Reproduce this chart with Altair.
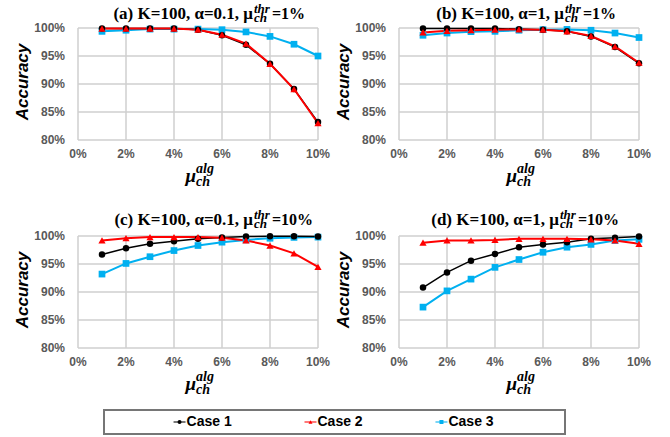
import altair as alt
import pandas as pd

# Channel load on the algorithm side (x axis)
mu_alg = [0.01, 0.02, 0.03, 0.04, 0.05, 0.06, 0.07, 0.08, 0.09, 0.10]

# Tick positions, used for the gridlines and the tick labels
x_ticks = [0, 0.02, 0.04, 0.06, 0.08, 0.10]
y_ticks = [0.80, 0.85, 0.90, 0.95, 1.00]

cases = ["Case 1", "Case 2", "Case 3"]
case_colors = {"Case 1": "#000000", "Case 2": "#FF0000", "Case 3": "#00B0F0"}
case_shapes = {"Case 1": "circle", "Case 2": "triangle-up", "Case 3": "square"}
case_sizes = {"Case 1": 42, "Case 2": 52, "Case 3": 45}
case_widths = {"Case 1": 1.5, "Case 2": 2, "Case 3": 2}
draw_order = ["Case 3", "Case 1", "Case 2"]

# Accuracy (%) per panel and case
acc_a_case1 = [99.9, 99.9, 99.9, 99.9, 99.7, 98.7, 97.0, 93.6, 89.1, 83.2]
acc_a_case2 = [99.9, 99.9, 99.9, 99.9, 99.7, 98.8, 97.2, 93.6, 89.1, 83.0]
acc_a_case3 = [99.4, 99.6, 99.8, 99.8, 99.8, 99.7, 99.3, 98.5, 97.1, 95.0]

acc_b_case1 = [99.9, 99.9, 99.9, 99.9, 99.8, 99.7, 99.4, 98.5, 96.6, 93.7]
acc_b_case2 = [99.2, 99.5, 99.6, 99.7, 99.75, 99.7, 99.4, 98.6, 96.7, 93.8]
acc_b_case3 = [98.7, 99.1, 99.35, 99.4, 99.6, 99.7, 99.75, 99.6, 99.1, 98.3]

acc_c_case1 = [96.7, 97.8, 98.6, 99.05, 99.5, 99.75, 99.9, 99.95, 99.95, 99.9]
acc_c_case2 = [99.2, 99.6, 99.8, 99.8, 99.8, 99.7, 99.2, 98.3, 96.9, 94.5]
acc_c_case3 = [93.2, 95.1, 96.3, 97.4, 98.3, 98.9, 99.3, 99.6, 99.75, 99.8]

acc_d_case1 = [90.8, 93.5, 95.6, 96.8, 98.0, 98.5, 98.9, 99.5, 99.7, 99.9]
acc_d_case2 = [98.8, 99.2, 99.2, 99.3, 99.5, 99.5, 99.5, 99.4, 99.2, 98.6]
acc_d_case3 = [87.3, 90.2, 92.3, 94.4, 95.8, 97.1, 98.0, 98.5, 99.2, 99.4]

series = {
    "a": [acc_a_case1, acc_a_case2, acc_a_case3],
    "b": [acc_b_case1, acc_b_case2, acc_b_case3],
    "c": [acc_c_case1, acc_c_case2, acc_c_case3],
    "d": [acc_d_case1, acc_d_case2, acc_d_case3],
}

rows = []
for key, vals in series.items():
    for case, accs in zip(cases, vals):
        for m, a in zip(mu_alg, accs):
            rows.append({"panel": key, "case": case, "mu": m, "acc": a / 100})
df = pd.DataFrame(rows)

x_grid_df = pd.DataFrame({"mu": x_ticks})
y_grid_df = pd.DataFrame({"acc": y_ticks})

# Panel headings: text before the mu symbol, and the value after it
titles = {
    "a": ("(a) K=100, α=0.1, μ", "=1%"),
    "b": ("(b) K=100, α=1, μ", "=1%"),
    "c": ("(c) K=100, α=0.1, μ", "=10%"),
    "d": ("(d) K=100, α=1, μ", "=10%"),
}

W, H = 240, 112
SERIF = "Liberation Serif"
SANS = "Liberation Sans"
GRID = "#cfcfcf"
LABEL = "#595959"
one_row = alt.Data(values=[{}])

x_scale = alt.Scale(domain=[0, 0.1], nice=False)
y_scale = alt.Scale(domain=[0.8, 1.0], nice=False)
x_enc = alt.X("mu:Q", scale=x_scale, axis=None)
y_enc = alt.Y("acc:Q", scale=y_scale, axis=None)


def text_piece(txt, x, y, size, align, italic):
    return alt.Chart(one_row).mark_text(
        text=txt, font=SERIF, fontSize=size, fontWeight="bold",
        fontStyle="italic" if italic else "normal",
        align=align, baseline="alphabetic", color="#000000",
    ).encode(x=alt.value(x), y=alt.value(y))


def panel(key, anchor, base):
    src = alt.Chart(df).transform_filter(alt.datum.panel == key)
    # gridlines at the tick positions
    layers = [
        alt.Chart(x_grid_df).mark_rule(color=GRID, strokeWidth=1.5).encode(x=x_enc),
        alt.Chart(y_grid_df).mark_rule(color=GRID, strokeWidth=1.5).encode(y=y_enc),
    ]
    # tick labels placed through the same scales
    layers += [
        alt.Chart(x_grid_df)
        .transform_calculate(lbl="format(datum.mu, '.0%')")
        .mark_text(font=SANS, fontSize=12, fontWeight="bold", color=LABEL,
                   align="center", baseline="middle")
        .encode(x=x_enc, y=alt.value(H + 14), text="lbl:N"),
        alt.Chart(y_grid_df)
        .transform_calculate(lbl="format(datum.acc, '.0%')")
        .mark_text(font=SANS, fontSize=12, fontWeight="bold", color=LABEL,
                   align="right", baseline="middle")
        .encode(y=y_enc, x=alt.value(-13), text="lbl:N"),
        alt.Chart(one_row).mark_text(
            text="Accuracy", font=SANS, fontSize=17, fontStyle="italic",
            fontWeight="bold", color="#000000", angle=270,
            align="center", baseline="middle",
        ).encode(x=alt.value(-55), y=alt.value(H / 2 - 2)),
    ]
    for c in draw_order:
        layers.append(
            src.transform_filter(alt.datum.case == c)
            .mark_line(color=case_colors[c], strokeWidth=case_widths[c])
            .encode(x=x_enc, y=y_enc)
        )
    for c in draw_order:
        layers.append(
            src.transform_filter(alt.datum.case == c)
            .mark_point(filled=True, opacity=1, shape=case_shapes[c],
                        size=case_sizes[c], color=case_colors[c])
            .encode(x=x_enc, y=y_enc)
        )
    head, tail = titles[key]
    # heading: mu with sub/superscripts
    layers += [
        text_piece(head, anchor, base, 17, "right", False),
        text_piece("thr", anchor + 1, base - 6, 13, "left", True),
        text_piece("ch", anchor + 1, base + 3, 13, "left", True),
        text_piece(tail, anchor + 19, base, 16, "left", False),
    ]
    # x-axis title: mu_ch^alg
    layers += [
        text_piece("μ", 118, 154, 19, "right", True),
        text_piece("alg", 118, 145, 14, "left", True),
        text_piece("ch", 118, 158, 14, "left", True),
    ]
    return alt.layer(*layers).properties(width=W, height=H)


# Legend strip drawn from the case list (box extends past the cell width)
legend_df = pd.DataFrame({"case": cases})
lx = alt.X("case:N", axis=None,
           scale=alt.Scale(type="point", domain=cases, range=[26, 487], padding=0.76))
lcolor = alt.Color("case:N", legend=None,
                   scale=alt.Scale(domain=cases, range=[case_colors[c] for c in cases]))
lshape = alt.Shape("case:N", legend=None,
                   scale=alt.Scale(domain=cases, range=[case_shapes[c] for c in cases]))
box = alt.Chart(one_row).mark_rect(fill="white", stroke="#767676", strokeWidth=2).encode(
    x=alt.value(26), x2=alt.value(487), y=alt.value(-34), y2=alt.value(-10))
seg = alt.Chart(legend_df).mark_tick(orient="horizontal", thickness=1.5, size=12,
                                     xOffset=-24).encode(x=lx, y=alt.value(-22), color=lcolor)
sym = alt.Chart(legend_df).mark_point(filled=True, opacity=1, size=16, xOffset=-24).encode(
    x=lx, y=alt.value(-22), color=lcolor, shape=lshape)
lab = alt.Chart(legend_df).mark_text(align="left", baseline="middle", dx=-17, font=SANS,
                                     fontSize=14, fontWeight="bold", color="#000000").encode(
    x=lx, y=alt.value(-22), text="case:N")
legend = alt.layer(box, seg, sym, lab).properties(width=W, height=1)

chart = (
    alt.concat(
        panel("a", 175, -9), panel("b", 165, -9),
        panel("c", 175, -11), panel("d", 160, -11),
        legend,
        columns=2, spacing={"row": 96, "column": 81}, bounds="flush",
    )
    .properties(padding={"left": 13, "top": 2, "right": 5, "bottom": 4})
    .configure_view(stroke="transparent")
)

chart.save("out.html", embed_options={"renderer": "svg", "actions": False})
